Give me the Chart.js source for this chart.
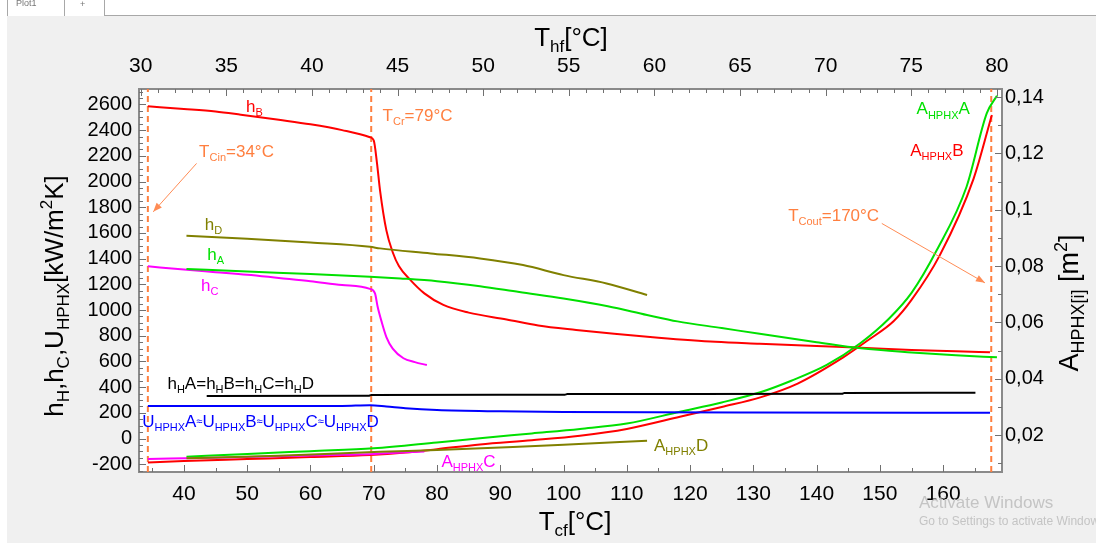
<!DOCTYPE html>
<html>
<head>
<meta charset="UTF-8">
<title>HPHX</title>
<script src="https://cdn.jsdelivr.net/npm/chart.js"></script>
<style>
  body {margin: 0; background: #fff;}
  #wrap {width: 1096px; height: 543px; position: relative;}
</style>
</head>
<body>
<div id="wrap"><canvas id="myChart"></canvas></div>
<script>
// ---- axes ----
const tcfTicks = [40, 50, 60, 70, 80, 90, 100, 110, 120, 130, 140, 150, 160];
const thfTicks = [30, 35, 40, 45, 50, 55, 60, 65, 70, 75, 80];
const hTicks = [-200, 0, 200, 400, 600, 800, 1000, 1200, 1400, 1600, 1800, 2000, 2200, 2400, 2600];
const aTicks = [0.02, 0.04, 0.06, 0.08, 0.10, 0.12, 0.14];
const aTickLabels = ['0,02', '0,04', '0,06', '0,08', '0,1', '0,12', '0,14'];
const tcfMin = 32.9, tcfMax = 169.3;
const thfMin = 29.9, thfMax = 80.3;
const hMin = -260, hMax = 2720;
const aMin = 0.0069, aMax = 0.1429;

// ---- heat transfer coefficients [kW/m2K] vs Tcf [°C] ----
const hB_x = [34.3, 40, 45, 49, 55, 60, 65, 69.4, 70, 70.5, 71, 72, 73, 74, 75.7, 78, 81, 85, 91, 96, 102, 108, 115, 124, 131, 140, 147, 155, 162, 167.4];
const hB_y = [2585, 2565, 2545, 2520, 2480, 2445, 2400, 2345, 2320, 2150, 1930, 1620, 1450, 1340, 1239, 1130, 1040, 980, 927, 880, 845, 815, 785, 753, 738, 720, 707, 690, 680, 671];
const hC_x = [34.3, 40, 45, 50, 55, 60, 65, 69.4, 70.2, 70.6, 71.3, 72, 73, 74.7, 76.5, 78.4];
const hC_y = [1340, 1315, 1295, 1275, 1250, 1225, 1195, 1165, 1130, 1030, 900, 790, 700, 625, 595, 572];
const hD_x = [40.4, 50, 60, 69.4, 71, 79, 86.8, 93.6, 100, 106.8, 113.2];
const hD_y = [1578, 1555, 1525, 1492, 1480, 1441, 1402, 1350, 1272, 1207, 1117];
const hA_x = [40.4, 50, 60, 69.4, 74.2, 80, 86.8, 93, 100, 107, 113.2, 118, 125, 131, 140, 147, 155, 162, 168.5];
const hA_y = [1320, 1300, 1280, 1260, 1246, 1225, 1186, 1140, 1090, 1030, 962, 912, 860, 815, 750, 702, 670, 648, 632];
const hH_x = [43.6, 69.2, 69.6, 100.2, 100.6, 144, 144.4, 165.1];
const hH_y = [331, 333, 340, 341, 346, 348, 355, 356];
const U_x = [34.3, 50, 65, 69.4, 72, 75, 80, 90, 100, 130, 167.4];
const U_y = [253, 253, 254, 260, 250, 236, 222, 212, 207, 202, 201];

// ---- HPHX areas [m2] vs Tcf [°C] ----
const AA_x = [40.4, 50, 60, 70, 80, 86.8, 95, 102.6, 110, 118.4, 125, 131.1, 136, 141.6, 146.9, 151.5, 155, 159, 163.7, 166.9, 168.5];
const AA_y = [0.0123, 0.0133, 0.0143, 0.0153, 0.0174, 0.0189, 0.0206, 0.0222, 0.0241, 0.0283, 0.0316, 0.0352, 0.0393, 0.0449, 0.0526, 0.0615, 0.0705, 0.0857, 0.1082, 0.1343, 0.1405];
const AB_x = [34.3, 40, 50, 60, 69.4, 75, 80, 86.8, 95, 102.6, 110, 118.4, 125, 131.1, 137, 144.2, 148, 152.2, 155, 159.5, 164.8, 167.7];
const AB_y = [0.0103, 0.0108, 0.0115, 0.0122, 0.0129, 0.0138, 0.0150, 0.0167, 0.0182, 0.0198, 0.0222, 0.0265, 0.0300, 0.0334, 0.0383, 0.0476, 0.0535, 0.0605, 0.0680, 0.0840, 0.1110, 0.1337];
const AC_x = [34.3, 45, 55, 65, 70, 75, 78];
const AC_y = [0.0115, 0.0120, 0.0125, 0.0130, 0.0133, 0.0139, 0.0142];
const AD_x = [40.4, 55, 71, 80, 92, 100, 113.2];
const AD_y = [0.0118, 0.0127, 0.0141, 0.0147, 0.0158, 0.0166, 0.0180];

// vertical markers: Tcin, Tcr, Tcout
const markerT = [34.3, 69.6, 167.6];

// colours
const RED = '#ff0000', GREEN = '#00e000', MAGENTA = '#ff00ff', OLIVE = '#808000', BLUE = '#0000ff', BLACK = '#000000', ORANGE = '#ff7f3f';

// text notes in data coordinates (Tcf, h)
const notes = [
  ['h_{B}', 49.8, 2542, RED],
  ['T_{Cr}=79°C', 71.4, 2472, ORANGE],
  ['T_{Cin}=34°C', 42.4, 2192, ORANGE],
  ['h_{D}', 43.3, 1622, OLIVE],
  ['h_{A}', 43.7, 1389, GREEN],
  ['h_{C}', 42.7, 1150, MAGENTA],
  ['h_{H}A=h_{H}B=h_{H}C=h_{H}D', 37.4, 383, BLACK],
  ['U_{HPHX}A~{≈}U_{HPHX}B~{≈}U_{HPHX}C~{≈}U_{HPHX}D', 33.4, 92, BLUE],
  ['A_{HPHX}C', 80.7, -219, MAGENTA],
  ['A_{HPHX}D', 114.3, -97, OLIVE],
  ['A_{HPHX}A', 155.8, 2522, GREEN],
  ['A_{HPHX}B', 154.8, 2197, RED],
  ['T_{Cout}=170°C', 135.5, 1692, ORANGE]
];
const arrows = [
  [42.0, 2141, 35.15, 1764],
  [150.3, 1674, 166.6, 1212]
];

const FONT = '"Liberation Sans", Arial, sans-serif';

function pts(xs, ys) {
  return xs.map((x, i) => ({x: x, y: ys[i]}));
}

function parseRich(str) {
  const out = [];
  const re = /([_^~])\{([^}]*)\}/g;
  let last = 0, m;
  while ((m = re.exec(str)) !== null) {
    if (m.index > last) out.push([str.slice(last, m.index), 'n']);
    out.push([m[2], m[1]]);
    last = re.lastIndex;
  }
  if (last < str.length) out.push([str.slice(last), 'n']);
  return out;
}

// draws text with sub/superscripts, x = left (or centre), y = baseline
function drawRich(ctx, str, x, y, size, color, align) {
  const parts = parseRich(str);
  ctx.save();
  ctx.fillStyle = color;
  ctx.textAlign = 'left';
  ctx.textBaseline = 'alphabetic';
  const segs = parts.map(([t, k]) => {
    let fs = size;
    if (k === '_' || k === '^') fs = Math.round(size * 0.66);
    if (k === '~') fs = Math.round(size * 0.62);
    ctx.font = fs + 'px ' + FONT;
    return {t: t, k: k, fs: fs, w: ctx.measureText(t).width};
  });
  const total = segs.reduce((s, g) => s + g.w, 0);
  let cx = align === 'center' ? x - total / 2 : x;
  segs.forEach(g => {
    ctx.font = g.fs + 'px ' + FONT;
    let dy = 0;
    if (g.k === '_') dy = size * 0.24;
    if (g.k === '^') dy = -size * 0.42;
    if (g.k === '~') dy = -size * 0.12;
    ctx.fillText(g.t, cx, y + dy);
    cx += g.w;
  });
  ctx.restore();
}

function line(label, data, color, axis) {
  return {
    label: label,
    data: data,
    yAxisID: axis,
    showLine: true,
    borderColor: color,
    backgroundColor: color,
    borderWidth: 2,
    pointRadius: 0,
    cubicInterpolationMode: 'monotone',
    fill: false
  };
}

const datasets = [
  line('hH', pts(hH_x, hH_y), BLACK, 'y'),
  line('U', pts(U_x, U_y), BLUE, 'y'),
  line('hD', pts(hD_x, hD_y), OLIVE, 'y'),
  line('hA', pts(hA_x, hA_y), GREEN, 'y'),
  line('hC', pts(hC_x, hC_y), MAGENTA, 'y'),
  line('hB', pts(hB_x, hB_y), RED, 'y'),
  line('AD', pts(AD_x, AD_y), OLIVE, 'y2'),
  line('AC', pts(AC_x, AC_y), MAGENTA, 'y2'),
  line('AA', pts(AA_x, AA_y), GREEN, 'y2'),
  line('AB', pts(AB_x, AB_y), RED, 'y2')
];
markerT.forEach(t => {
  const d = line('T', [{x: t, y: hMin}, {x: t, y: hMax}], ORANGE, 'y');
  d.borderDash = [6, 4];
  d.cubicInterpolationMode = 'default';
  datasets.push(d);
});

const minorStep = {x: 5, x2: 1, y: 50, y2: 0.01};

const framePlugin = {
  id: 'frame',
  beforeDraw(chart) {
    const ctx = chart.ctx, a = chart.chartArea;
    ctx.save();
    ctx.fillStyle = '#ffffff';
    ctx.fillRect(0, 0, chart.width, chart.height);
    ctx.fillStyle = '#f0f0f0';
    ctx.fillRect(7, 16, chart.width - 7, chart.height - 16);
    ctx.strokeStyle = '#a8a8a8';
    ctx.lineWidth = 1;
    ctx.beginPath();
    ctx.moveTo(104, 15.5); ctx.lineTo(chart.width, 15.5);
    ctx.moveTo(7.5, 0); ctx.lineTo(7.5, 16);
    ctx.moveTo(64.5, 0); ctx.lineTo(64.5, 16);
    ctx.moveTo(104.5, 0); ctx.lineTo(104.5, 16);
    ctx.stroke();
    ctx.fillStyle = '#777';
    ctx.font = '9px ' + FONT;
    ctx.fillText('Plot1', 16, 6);
    ctx.fillText('+', 80, 7);
    ctx.fillStyle = '#ffffff';
    ctx.fillRect(a.left, a.top, a.right - a.left, a.bottom - a.top);
    ctx.restore();
  },
  afterDatasetsDraw(chart) {
    const ctx = chart.ctx, sx = chart.scales.x, sy = chart.scales.y;
    notes.forEach(([t, x, y, c]) => {
      drawRich(ctx, t, sx.getPixelForValue(x), sy.getPixelForValue(y), 17, c, 'left');
    });
    ctx.save();
    ctx.strokeStyle = '#ff8c55';
    ctx.fillStyle = '#ff8c55';
    ctx.lineWidth = 1;
    arrows.forEach(([x1, y1, x2, y2]) => {
      const p1x = sx.getPixelForValue(x1), p1y = sy.getPixelForValue(y1);
      const p2x = sx.getPixelForValue(x2), p2y = sy.getPixelForValue(y2);
      const ang = Math.atan2(p2y - p1y, p2x - p1x);
      ctx.beginPath();
      ctx.moveTo(p1x, p1y);
      ctx.lineTo(p2x, p2y);
      ctx.stroke();
      ctx.beginPath();
      ctx.moveTo(p2x, p2y);
      ctx.lineTo(p2x - 9 * Math.cos(ang) + 3.5 * Math.sin(ang), p2y - 9 * Math.sin(ang) - 3.5 * Math.cos(ang));
      ctx.lineTo(p2x - 9 * Math.cos(ang) - 3.5 * Math.sin(ang), p2y - 9 * Math.sin(ang) + 3.5 * Math.cos(ang));
      ctx.closePath();
      ctx.fill();
    });
    ctx.restore();
  },
  afterDraw(chart) {
    const ctx = chart.ctx, a = chart.chartArea;
    // inward tick marks
    ctx.save();
    ctx.strokeStyle = '#707070';
    ctx.lineWidth = 1;
    ['x', 'x2', 'y', 'y2'].forEach(id => {
      const s = chart.scales[id];
      const step = minorStep[id];
      const majors = s.ticks.map(t => t.value);
      for (let k = Math.ceil(s.min / step - 1e-9); k * step <= s.max + 1e-9; k++) {
        const v = k * step;
        const major = majors.some(m => Math.abs(m - v) < step * 0.01);
        const len = major ? 7 : 4;
        const p = Math.round(s.getPixelForValue(v)) + 0.5;
        ctx.beginPath();
        if (id === 'x') { ctx.moveTo(p, a.bottom); ctx.lineTo(p, a.bottom - len); }
        if (id === 'x2') { ctx.moveTo(p, a.top); ctx.lineTo(p, a.top + len); }
        if (id === 'y') { ctx.moveTo(a.left, p); ctx.lineTo(a.left + len, p); }
        if (id === 'y2') { ctx.moveTo(a.right, p); ctx.lineTo(a.right - len, p); }
        ctx.stroke();
      }
    });
    ctx.restore();
    // axis titles
    drawRich(ctx, 'T_{cf}[°C]', 575, 530, 26, '#000', 'center');
    drawRich(ctx, 'T_{hf}[°C]', 571, 46, 26, '#000', 'center');
    ctx.save();
    ctx.translate(63, 296);
    ctx.rotate(-Math.PI / 2);
    drawRich(ctx, 'h_{H},h_{C},U_{HPHX}[kW/m^{2}K]', 0, 0, 26, '#000', 'center');
    ctx.restore();
    ctx.save();
    ctx.translate(1078, 303);
    ctx.rotate(-Math.PI / 2);
    drawRich(ctx, 'A_{HPHX[i]} [m^{2}]', 0, 0, 27, '#000', 'center');
    ctx.restore();
    // OS watermark
    ctx.save();
    ctx.fillStyle = '#c4c4c4';
    ctx.font = '17px ' + FONT;
    ctx.fillText('Activate Windows', 919, 508);
    ctx.font = '12px ' + FONT;
    ctx.fillText('Go to Settings to activate Windows.', 919, 525);
    ctx.restore();
  }
};

function axisBase(pos, min, max, size, pad) {
  return {
    type: 'linear',
    position: pos,
    min: min,
    max: max,
    grid: {display: false, drawTicks: false},
    border: {display: true, color: '#8a8a8a', width: 2},
    ticks: {color: '#000', autoSkip: false, maxRotation: 0, padding: pad, font: {family: FONT, size: size}}
  };
}

const sx = axisBase('bottom', tcfMin, tcfMax, 21, 10);
sx.afterBuildTicks = s => { s.ticks = tcfTicks.map(v => ({value: v})); };
sx.afterFit = s => { s.height = 71; };
sx.ticks.callback = v => String(v);

const sx2 = axisBase('top', thfMin, thfMax, 21, 10);
sx2.afterBuildTicks = s => { s.ticks = thfTicks.map(v => ({value: v})); };
sx2.afterFit = s => { s.height = 89; };
sx2.ticks.callback = v => String(v);

const sy = axisBase('left', hMin, hMax, 20, 7);
sy.afterBuildTicks = s => { s.ticks = hTicks.map(v => ({value: v})); };
sy.afterFit = s => { s.width = 139; };
sy.ticks.callback = v => String(v);

const sy2 = axisBase('right', aMin, aMax, 20, 3);
sy2.afterBuildTicks = s => { s.ticks = aTicks.map(v => ({value: v})); };
sy2.afterFit = s => { s.width = 94; };
sy2.ticks.callback = (v, i) => aTickLabels[i];

const ctx = document.getElementById('myChart').getContext('2d');
const chart = new Chart(ctx, {
  type: 'scatter',
  data: {datasets: datasets},
  options: {
    responsive: true,
    maintainAspectRatio: false,
    animation: false,
    events: [],
    layout: {padding: 0},
    plugins: {legend: {display: false}, tooltip: {enabled: false}},
    scales: {x: sx, x2: sx2, y: sy, y2: sy2}
  },
  plugins: [framePlugin]
});
</script>
</body>
</html>
